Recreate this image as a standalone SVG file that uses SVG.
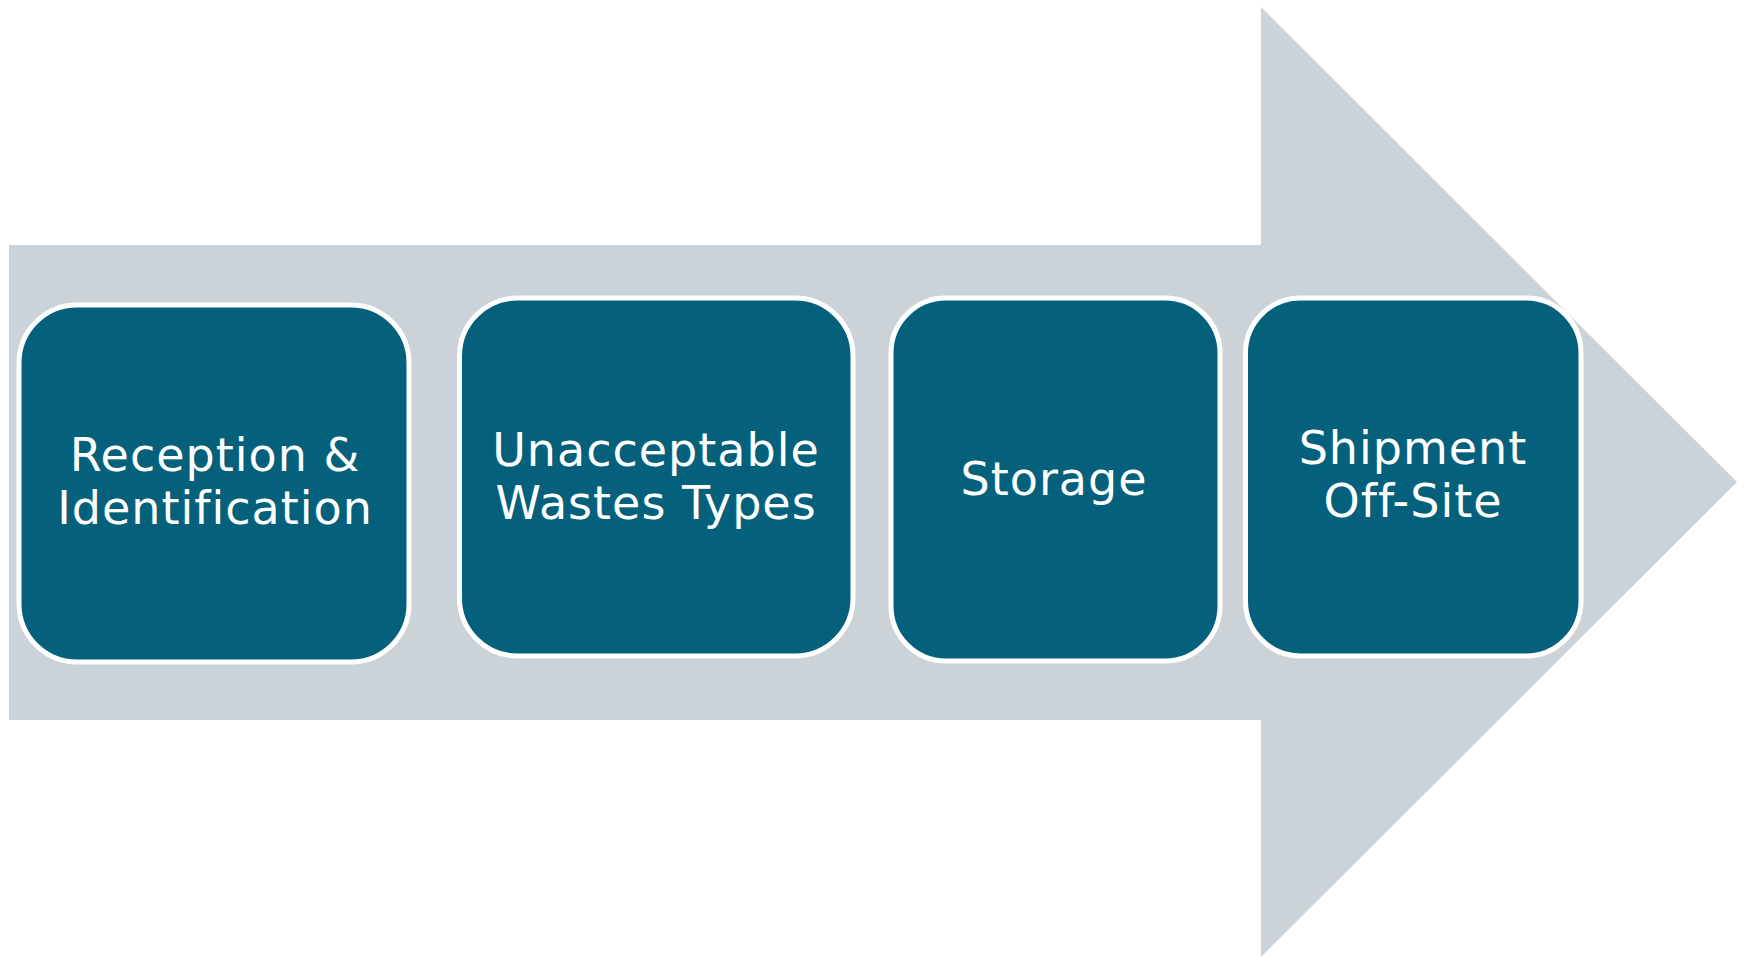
<svg xmlns="http://www.w3.org/2000/svg" width="1745" height="958" viewBox="0 0 1745 958">
<style>
.box{fill:#05617B;stroke:#FFFFFF;stroke-width:5}
.lbl{font-family:"DejaVu Sans","Verdana",sans-serif;font-size:46px;fill:#FFFFFF;text-anchor:middle;letter-spacing:1px}
</style>
<rect width="1745" height="958" fill="#FFFFFF"/>
<g id="arrow">
<polygon points="9,245 1261,245 1261,7 1737,482 1261,957 1261,720 9,720" fill="#CBD2D8"/>
</g>
<g id="connectors"></g>
<g id="node1">
<rect class="box" x="19" y="305" width="390" height="357" rx="58" ry="58"/>
<text class="lbl" x="215" y="471">Reception &amp;</text>
<text class="lbl" x="215" y="524">Identification</text>
</g>
<g id="node2">
<rect class="box" x="459.5" y="298" width="393.5" height="358" rx="58" ry="58"/>
<text class="lbl" x="656" y="466">Unacceptable</text>
<text class="lbl" x="656" y="519">Wastes Types</text>
</g>
<g id="node3">
<rect class="box" x="891" y="298" width="329" height="363" rx="55" ry="55"/>
<text class="lbl" x="1054" y="495">Storage</text>
</g>
<g id="node4">
<rect class="box" x="1245.5" y="298" width="335.5" height="358" rx="55" ry="55"/>
<text class="lbl" x="1413" y="464">Shipment</text>
<text class="lbl" x="1413" y="517">Off-Site</text>
</g>
</svg>
